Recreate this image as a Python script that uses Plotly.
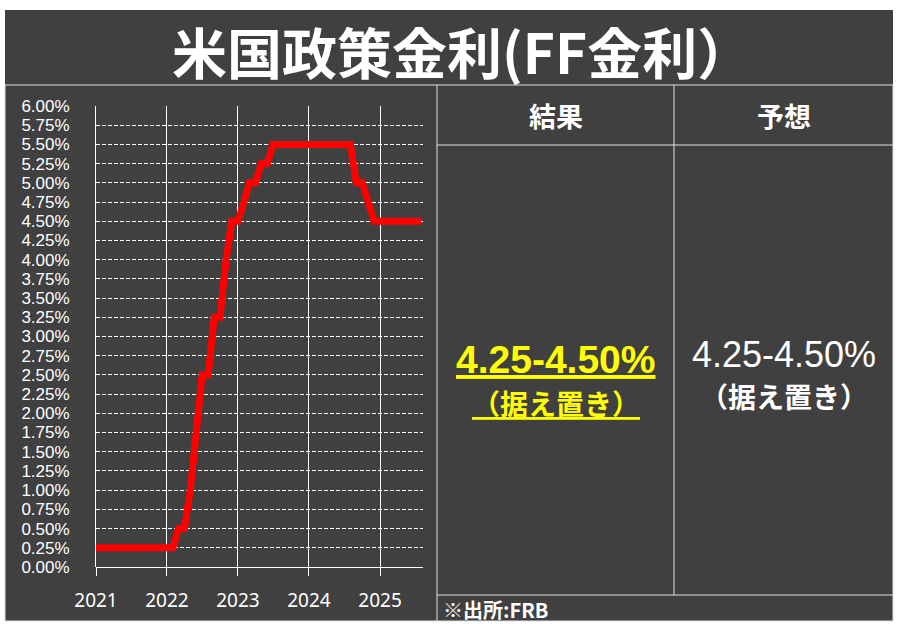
import plotly.graph_objects as go

# monthly FF rate (upper bound, %)
months = [
    "2021-01-01", "2021-02-01", "2021-03-01", "2021-04-01", "2021-05-01", "2021-06-01",
    "2021-07-01", "2021-08-01", "2021-09-01", "2021-10-01", "2021-11-01", "2021-12-01",
    "2022-01-01", "2022-02-01", "2022-03-01", "2022-04-01", "2022-05-01", "2022-06-01",
    "2022-07-01", "2022-08-01", "2022-09-01", "2022-10-01", "2022-11-01", "2022-12-01",
    "2023-01-01", "2023-02-01", "2023-03-01", "2023-04-01", "2023-05-01", "2023-06-01",
    "2023-07-01", "2023-08-01", "2023-09-01", "2023-10-01", "2023-11-01", "2023-12-01",
    "2024-01-01", "2024-02-01", "2024-03-01", "2024-04-01", "2024-05-01", "2024-06-01",
    "2024-07-01", "2024-08-01", "2024-09-01", "2024-10-01", "2024-11-01", "2024-12-01",
    "2025-01-01", "2025-02-01", "2025-03-01", "2025-04-01", "2025-05-01", "2025-06-01",
    "2025-07-01", "2025-08-01",
]
rates = [
    0.25, 0.25, 0.25, 0.25, 0.25, 0.25, 0.25, 0.25, 0.25, 0.25, 0.25, 0.25,
    0.25, 0.25, 0.50, 0.50, 1.00, 1.75, 2.50, 2.50, 3.25, 3.25, 4.00, 4.50,
    4.50, 4.75, 5.00, 5.00, 5.25, 5.25, 5.50, 5.50, 5.50, 5.50, 5.50, 5.50,
    5.50, 5.50, 5.50, 5.50, 5.50, 5.50, 5.50, 5.50, 5.00, 5.00, 4.75, 4.50,
    4.50, 4.50, 4.50, 4.50, 4.50, 4.50, 4.50, 4.50,
]
year_ticks = ["2021-01-01", "2022-01-01", "2023-01-01", "2024-01-01", "2025-01-01"]
year_labels = ["2021", "2022", "2023", "2024", "2025"]

title = "米国政策金利(FF金利）"
col_headers = ["結果", "予想"]
result_text = ["4.25-4.50%", "（据え置き）"]
forecast_text = ["4.25-4.50%", "（据え置き）"]
source = "※出所:FRB"

W, H = 899, 624
BG = "#404040"
LINE = "#e0e0e0"
JP = "Noto Sans CJK JP"
LAT = "Liberation Sans"


def px(x):
    return x / W


def py(y):
    return 1 - y / H


fig = go.Figure()
fig.add_trace(go.Scatter(x=months, y=rates, mode="lines",
                         line=dict(color="#ff0000", width=7), hoverinfo="skip"))

# dark card + table rules
shapes = [dict(type="rect", xref="paper", yref="paper", x0=px(5), x1=px(893), y0=py(621), y1=py(10),
               fillcolor=BG, line_width=0, layer="below")]
for x0, y0, x1, y1 in [(5, 85, 893, 85), (437, 145, 893, 145), (437, 595, 893, 595),
                       (5, 621, 893, 621), (5, 85, 5, 621), (893, 85, 893, 621),
                       (437, 85, 437, 621), (674, 85, 674, 595)]:
    shapes.append(dict(type="line", xref="paper", yref="paper", x0=px(x0), x1=px(x1),
                       y0=py(y0), y1=py(y1), line=dict(color=LINE, width=1), layer="below"))


def note(text, x, y, size, color="white", bold=True, anchor="center", family=JP):
    fig.add_annotation(xref="paper", yref="paper", x=px(x), y=py(y), text=text, showarrow=False,
                       xanchor=anchor, yanchor="middle",
                       font=dict(family=family, size=size, color=color, weight=700 if bold else 400))


note(title, 462, 50, 55)
note(col_headers[0], 555.5, 115, 27)
note(col_headers[1], 783.5, 115, 27)

note("<u>" + result_text[0] + "</u>", 555.5, 359.5, 39, color="#ffff00", family=LAT)
note("<u>" + result_text[1] + "</u>", 555.5, 402.5, 28, color="#ffff00")
note(forecast_text[0], 783.5, 354, 36, bold=False, family=LAT)
note(forecast_text[1], 783.5, 396, 28)
note(source, 441, 609, 20, anchor="left")

fig.update_layout(
    template="none",
    width=W, height=H,
    margin=dict(l=0, r=0, t=0, b=0, pad=0, autoexpand=False),
    paper_bgcolor="white",
    plot_bgcolor="rgba(0,0,0,0)",
    showlegend=False,
    shapes=shapes,
    xaxis=dict(
        domain=[px(96), px(423)],
        range=["2021-01-01", "2025-08-10"],
        tickvals=year_ticks, ticktext=year_labels,
        showgrid=True, gridcolor="white", gridwidth=1,
        ticks="outside", ticklen=8, tickcolor="white",
        ticklabelstandoff=8, automargin=False,
        tickfont=dict(family="Noto Sans", size=19, color="white"),
        zeroline=False, showline=False, fixedrange=True,
    ),
    yaxis=dict(
        domain=[py(567), py(106)],
        range=[0, 6], dtick=0.25,
        tickformat=".2f", ticksuffix="%",
        showgrid=True, gridcolor="white", gridwidth=1, griddash="4px,2px",
        zeroline=True, zerolinecolor="white", zerolinewidth=1,
        showline=True, linecolor="white", linewidth=1,
        ticks="", ticklabelstandoff=22, automargin=False,
        tickfont=dict(family=LAT, size=17, color="white"),
        fixedrange=True,
    ),
)

fig.write_html("out.html", config={"displayModeBar": False},
               post_script="document.body.style.margin='0px';")
